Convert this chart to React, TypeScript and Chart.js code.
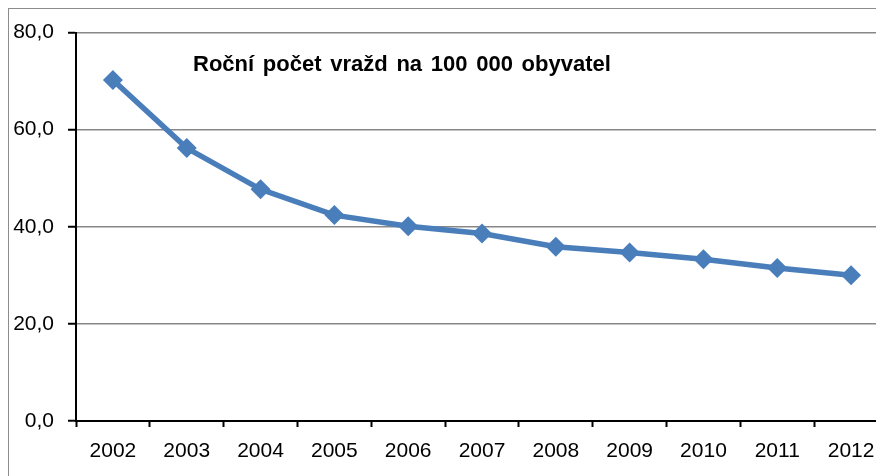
import React, { useEffect, useRef } from "react";
import { Chart, registerables } from "chart.js";

Chart.register(...registerables);

const categories = ["2002", "2003", "2004", "2005", "2006", "2007", "2008", "2009", "2010", "2011", "2012"];
const values = [70.2, 56.2, 47.7, 42.4, 40.1, 38.6, 35.9, 34.7, 33.3, 31.5, 30.0];
const yMin = 0;
const yMax = 80;
const yStep = 20;
const titleText = "Roční počet vražd na 100 000 obyvatel";

const FONT = "'Liberation Sans', Arial, sans-serif";
const LINE_COLOR = "#4a7ebb";

const titlePlugin = {
  id: "insideTitle",
  afterDraw(chart: any) {
    const { ctx, chartArea } = chart;
    ctx.save();
    ctx.font = `bold 22px ${FONT}`;
    try {
      (ctx as any).wordSpacing = "2.6px";
    } catch (e) {}
    ctx.fillStyle = "#000";
    ctx.textAlign = "left";
    ctx.textBaseline = "alphabetic";
    ctx.fillText(titleText, chartArea.left + 117, chartArea.top + 38.5);
    ctx.restore();
  },
};

export default function App() {
  const ref = useRef<HTMLCanvasElement | null>(null);

  useEffect(() => {
    if (!ref.current) return;
    const chart = new Chart(ref.current, {
      type: "line",
      data: {
        labels: categories,
        datasets: [
          {
            data: values,
            borderColor: LINE_COLOR,
            backgroundColor: LINE_COLOR,
            borderWidth: 5.5,
            tension: 0,
            pointStyle: "rectRot",
            pointRadius: 10,
            pointBorderWidth: 0,
            pointBackgroundColor: LINE_COLOR,
            pointBorderColor: LINE_COLOR,
          },
        ],
      },
      options: {
        responsive: false,
        animation: false,
        devicePixelRatio: 1,
        layout: { padding: { left: 0, right: 21, top: 23.5, bottom: 0 } },
        plugins: {
          legend: { display: false },
          title: { display: false },
          tooltip: { enabled: false },
        },
        scales: {
          x: {
            type: "category",
            offset: true,
            afterFit: (scale: any) => {
              scale.height = 58;
              scale.paddingLeft = 0;
              scale.paddingRight = 0;
            },
            grid: {
              offset: true,
              drawOnChartArea: false,
              drawTicks: true,
              tickLength: 6,
              tickColor: "#000",
              tickWidth: 2,
            },
            border: { display: true, color: "#000", width: 2 },
            ticks: {
              color: "#000",
              font: { family: FONT, size: 21 },
              padding: 12,
              maxRotation: 0,
              autoSkip: false,
            },
          },
          y: {
            min: yMin,
            max: yMax,
            afterFit: (scale: any) => {
              scale.width = 67;
              scale.paddingTop = 0;
              scale.paddingBottom = 0;
            },
            grid: {
              color: "#878787",
              lineWidth: 1.5,
              drawTicks: true,
              tickLength: 8,
              tickColor: "#000",
              tickWidth: 2,
            },
            border: { display: true, color: "#000", width: 2 },
            ticks: {
              stepSize: yStep,
              color: "#000",
              padding: 14,
              font: { family: FONT, size: 21 },
              callback: (v: any) => Number(v).toFixed(1).replace(".", ","),
            },
          },
        },
      },
      plugins: [titlePlugin],
    });
    return () => chart.destroy();
  }, []);

  return (
    <div style={{ width: 876, height: 468, overflow: "hidden" }}>
      <div style={{ border: "1px solid #8c8c8c", width: 900, height: 470 }}>
        <canvas ref={ref} width={900} height={470} style={{ display: "block", width: 900, height: 470 }} />
      </div>
    </div>
  );
}
